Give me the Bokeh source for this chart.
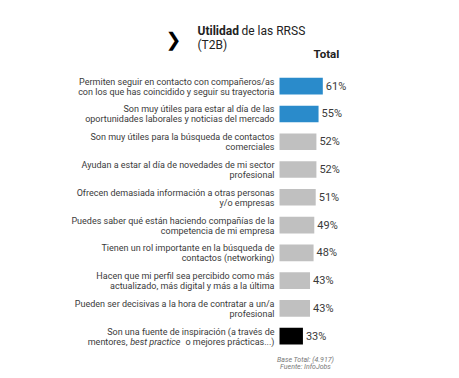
from bokeh.plotting import figure
from bokeh.models import Range1d, Label, ColumnDataSource
from bokeh.core.properties import value
from bokeh.embed import file_html
from bokeh.resources import INLINE

line1 = [
    "Permiten seguir en contacto con compañeros/as",
    "Son muy útiles para estar al día de las",
    "Son muy útiles para la búsqueda de contactos",
    "Ayudan a estar al día de novedades de mi sector",
    "Ofrecen demasiada información a otras personas",
    "Puedes saber qué están haciendo compañías de la",
    "Tienen un rol importante en la búsqueda de",
    "Hacen que mi perfil sea percibido como más",
    "Pueden ser decisivas a la hora de contratar a un/a",
    "Son una fuente de inspiración (a través de",
]
line2 = [
    "con los que has coincidido y seguir su trayectoria",
    "oportunidades laborales y noticias del mercado",
    "comerciales",
    "profesional",
    "y/o empresas",
    "competencia de mi empresa",
    "contactos (networking)",
    "actualizado, más digital y más a la última",
    "profesional",
    "",
]
last_line_parts = ["mentores,", "best practice", "o mejores prácticas...)"]
values = [61, 55, 52, 52, 51, 49, 48, 43, 43, 33]
colors = ["#2a8bcb", "#2a8bcb"] + ["#c0c0c0"] * 7 + ["#000000"]
pct_labels = [f"{v}%" for v in values]

FONT = "Roboto"
TXT = "#3a3a3a"

n = len(values)
idx = list(range(n))
src = ColumnDataSource(dict(y=idx, v=values, c=colors, l1=line1, l2=line2, pl=pct_labels, zero=[0] * n))

px_per = 0.71
x0 = 279
W, H = 451, 372
pitch = 27.77
y_first = 85.7

p = figure(width=W, height=H, output_backend="svg", toolbar_location=None,
           x_range=Range1d(-x0 / px_per, (W - x0) / px_per),
           y_range=Range1d((H - y_first) / pitch, -y_first / pitch),
           min_border=0, outline_line_color=None)
p.xaxis.visible = False
p.yaxis.visible = False
p.xgrid.visible = False
p.ygrid.visible = False

p.hbar(y="y", left=0, right="v", height=0.6, fill_color="c", line_color=None, source=src)

p.text(x="zero", y="y", text="l1", x_offset=-5, y_offset=-4.5, text_align="right", text_baseline="middle",
       text_font=value(FONT), text_font_size="9px", text_color=TXT, source=src)
p.text(x="zero", y="y", text="l2", x_offset=-5, y_offset=5.5, text_align="right", text_baseline="middle",
       text_font=value(FONT), text_font_size="9px", text_color=TXT, source=src)

# last label second line with italic part
last = n - 1
p.text(x=[0], y=[last], text=[last_line_parts[2]], x_offset=-5, y_offset=5.5, text_align="right",
       text_baseline="middle", text_font=value(FONT), text_font_size="9px", text_color=TXT)
p.text(x=[0], y=[last], text=[last_line_parts[1]], x_offset=-99, y_offset=5.5, text_align="right",
       text_baseline="middle", text_font=value(FONT), text_font_size="9px", text_font_style="italic", text_color=TXT)
p.text(x=[0], y=[last], text=[last_line_parts[0]], x_offset=-152, y_offset=5.5, text_align="right",
       text_baseline="middle", text_font=value(FONT), text_font_size="9px", text_color=TXT)

p.text(x="v", y="y", text="pl", x_offset=3, text_align="left", text_baseline="middle",
       text_font=value(FONT), text_font_size="11px", text_color=TXT, source=src)

# title
p.add_layout(Label(x=165, y=H - 38.5, x_units="screen", y_units="screen", text="❯",
                   text_font="DejaVu Sans", text_font_style="bold", text_font_size="19px",
                   text_color="#000000", text_baseline="middle"))
p.add_layout(Label(x=197, y=H - 30, x_units="screen", y_units="screen", text="Utilidad",
                   text_font=FONT, text_font_style="bold", text_font_size="12px",
                   text_color="#222222", text_baseline="middle"))
p.add_layout(Label(x=241, y=H - 30, x_units="screen", y_units="screen", text="de las RRSS",
                   text_font=FONT, text_font_size="12px", text_color="#222222", text_baseline="middle"))
p.add_layout(Label(x=197, y=H - 44.5, x_units="screen", y_units="screen", text="(T2B)",
                   text_font=FONT, text_font_size="12px", text_color="#222222", text_baseline="middle"))
p.add_layout(Label(x=313, y=H - 53, x_units="screen", y_units="screen", text="Total",
                   text_font=FONT, text_font_style="bold", text_font_size="11.5px",
                   text_color="#222222", text_baseline="middle"))

# footer
p.add_layout(Label(x=305, y=H - 359, x_units="screen", y_units="screen", text="Base Total: (4.917)",
                   text_font=FONT, text_font_style="italic", text_font_size="7px",
                   text_color="#777777", text_align="center", text_baseline="middle"))
p.add_layout(Label(x=305, y=H - 366.5, x_units="screen", y_units="screen", text="Fuente: InfoJobs",
                   text_font=FONT, text_font_style="italic", text_font_size="7px",
                   text_color="#777777", text_align="center", text_baseline="middle"))

open("out.html", "w").write(file_html(p, INLINE))
